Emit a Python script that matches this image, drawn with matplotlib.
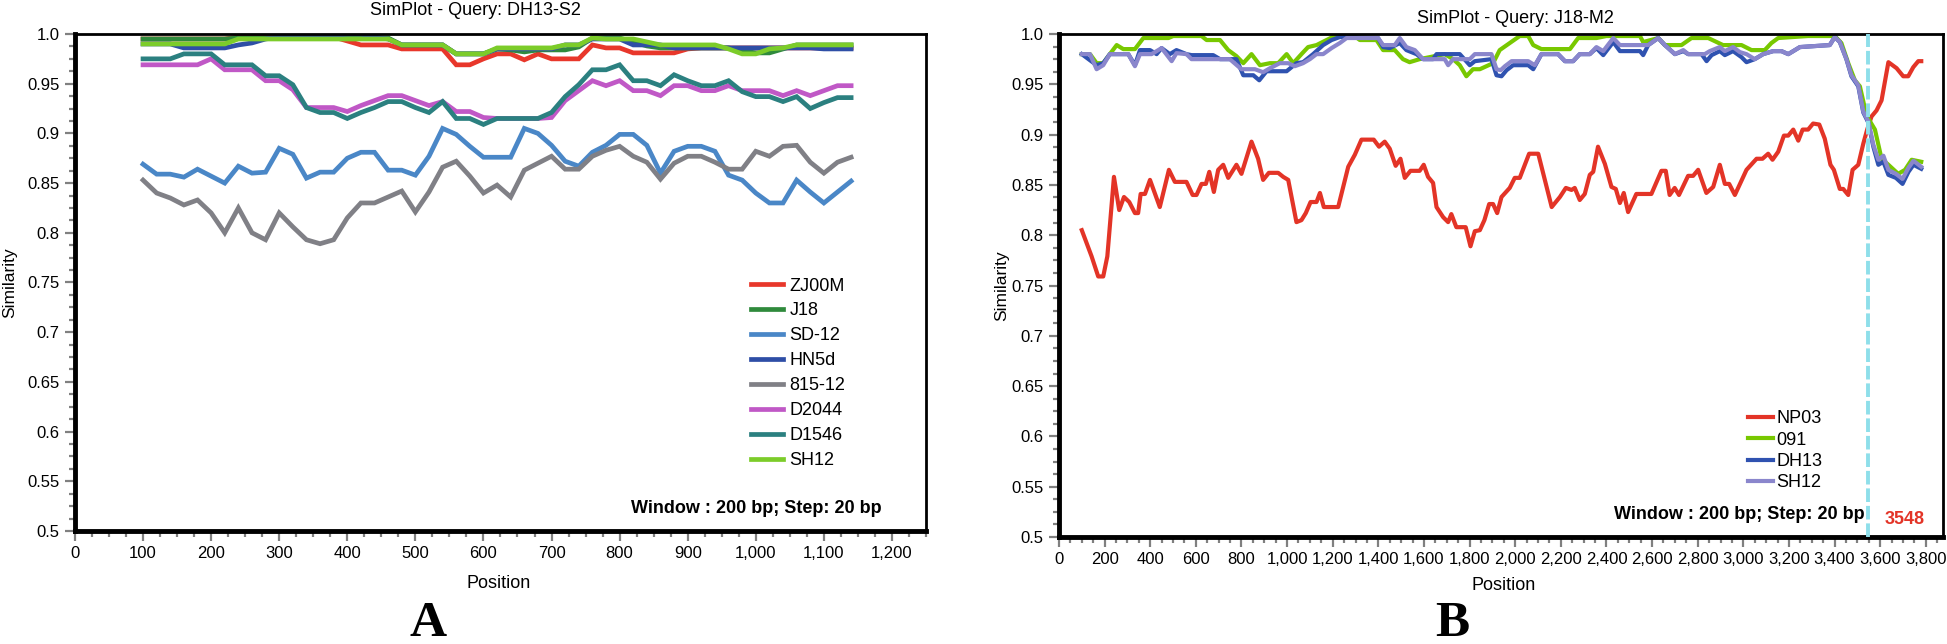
import numpy as np
import matplotlib
matplotlib.use('Agg')
import matplotlib.pyplot as plt
from matplotlib.ticker import MultipleLocator, FuncFormatter, FixedLocator

plt.rcParams['font.family'] = ['Liberation Sans', 'DejaVu Sans']

# ---------- panel A : query DH13-S2 (window 200 bp, step 20 bp) ----------
pos_a = np.arange(100, 1141, 20)

zj00m = [0.995, 0.995, 0.995, 0.995, 0.995, 0.995, 0.995, 0.997, 0.997, 0.997,
         0.997, 0.997, 0.997, 0.997, 0.997, 0.993, 0.989, 0.989, 0.989, 0.985,
         0.985, 0.985, 0.985, 0.969, 0.969, 0.975, 0.980, 0.980, 0.974, 0.980,
         0.975, 0.975, 0.975, 0.989, 0.986, 0.986, 0.981, 0.981, 0.981, 0.981,
         0.985, 0.986, 0.986, 0.986, 0.986, 0.986, 0.986, 0.986, 0.986, 0.986,
         0.986, 0.986, 0.986]
j18 = [0.995, 0.995, 0.995, 0.995, 0.995, 0.995, 0.995, 0.996, 0.996, 0.996,
       0.996, 0.996, 0.996, 0.996, 0.996, 0.996, 0.996, 0.996, 0.996, 0.989,
       0.989, 0.989, 0.989, 0.980, 0.980, 0.980, 0.985, 0.984, 0.982, 0.984,
       0.984, 0.984, 0.987, 0.996, 0.996, 0.996, 0.992, 0.988, 0.986, 0.986,
       0.986, 0.986, 0.986, 0.986, 0.983, 0.981, 0.981, 0.985, 0.989, 0.989,
       0.989, 0.989, 0.989]
sd12 = [0.869, 0.859, 0.859, 0.856, 0.864, 0.857, 0.850, 0.867, 0.860, 0.861,
        0.885, 0.879, 0.855, 0.861, 0.861, 0.875, 0.881, 0.881, 0.863, 0.863,
        0.858, 0.877, 0.905, 0.899, 0.887, 0.876, 0.876, 0.876, 0.905, 0.900,
        0.888, 0.872, 0.867, 0.881, 0.888, 0.899, 0.899, 0.888, 0.860, 0.882,
        0.887, 0.887, 0.882, 0.858, 0.853, 0.840, 0.830, 0.830, 0.853, 0.841,
        0.830, 0.841, 0.852]
hn5d = [0.990, 0.990, 0.990, 0.986, 0.986, 0.986, 0.986, 0.989, 0.991, 0.995,
        0.997, 0.997, 0.997, 0.997, 0.998, 1.000, 1.000, 0.997, 0.995, 0.989,
        0.989, 0.989, 0.989, 0.980, 0.980, 0.980, 0.985, 0.985, 0.985, 0.985,
        0.985, 0.989, 0.989, 0.995, 0.995, 0.995, 0.989, 0.989, 0.989, 0.986,
        0.986, 0.986, 0.986, 0.986, 0.986, 0.986, 0.986, 0.986, 0.986, 0.986,
        0.985, 0.985, 0.985]
s815 = [0.853, 0.840, 0.835, 0.828, 0.833, 0.820, 0.800, 0.825, 0.800, 0.793,
        0.820, 0.806, 0.793, 0.789, 0.793, 0.815, 0.830, 0.830, 0.836, 0.842,
        0.821, 0.841, 0.866, 0.872, 0.857, 0.840, 0.848, 0.836, 0.863, 0.870,
        0.877, 0.864, 0.864, 0.877, 0.883, 0.887, 0.877, 0.871, 0.854, 0.870,
        0.877, 0.877, 0.871, 0.864, 0.864, 0.882, 0.877, 0.887, 0.888, 0.871,
        0.860, 0.871, 0.876]
d2044 = [0.969, 0.969, 0.969, 0.969, 0.969, 0.975, 0.964, 0.964, 0.964, 0.953,
         0.953, 0.944, 0.926, 0.926, 0.926, 0.922, 0.928, 0.933, 0.938, 0.938,
         0.933, 0.928, 0.932, 0.922, 0.922, 0.916, 0.915, 0.915, 0.915, 0.915,
         0.916, 0.933, 0.943, 0.953, 0.948, 0.953, 0.943, 0.943, 0.938, 0.948,
         0.948, 0.943, 0.943, 0.948, 0.943, 0.943, 0.943, 0.938, 0.943, 0.938,
         0.943, 0.948, 0.948]
d1546 = [0.975, 0.975, 0.975, 0.980, 0.980, 0.980, 0.969, 0.969, 0.969, 0.958,
         0.958, 0.949, 0.926, 0.921, 0.921, 0.915, 0.921, 0.926, 0.932, 0.932,
         0.926, 0.921, 0.932, 0.915, 0.915, 0.909, 0.915, 0.915, 0.915, 0.915,
         0.921, 0.937, 0.949, 0.964, 0.964, 0.969, 0.953, 0.953, 0.948, 0.959,
         0.953, 0.948, 0.948, 0.953, 0.942, 0.937, 0.937, 0.932, 0.937, 0.925,
         0.931, 0.936, 0.936]
sh12_a = [0.990, 0.990, 0.990, 0.990, 0.990, 0.990, 0.990, 0.995, 0.995, 0.995,
          0.995, 0.995, 0.995, 0.995, 0.995, 0.995, 0.995, 0.995, 0.995, 0.989,
          0.989, 0.989, 0.989, 0.980, 0.980, 0.980, 0.986, 0.986, 0.986, 0.986,
          0.986, 0.989, 0.989, 0.996, 0.995, 0.995, 0.995, 0.992, 0.989, 0.989,
          0.989, 0.989, 0.989, 0.985, 0.980, 0.980, 0.985, 0.986, 0.989, 0.989,
          0.989, 0.989, 0.989]

names_a = ['ZJ00M', 'J18', 'SD-12', 'HN5d', '815-12', 'D2044', 'D1546', 'SH12']
series_a = [zj00m, j18, sd12, hn5d, s815, d2044, d1546, sh12_a]
colors_a = ['#e8372b', '#2f8a3c', '#4a87c7', '#2e4ea6', '#808086', '#c058c6', '#2b8080', '#7ccc2a']

# ---------- panel B : query J18-M2 ----------
np03 = [(100, .805), (143, .779), (172, .759), (194, .759), (212, .779), (241, .858),
        (264, .825), (285, .838), (308, .833), (333, .822), (347, .822), (358, .841),
        (377, .841), (399, .855), (442, .828), (482, .865), (508, .853), (559, .853),
        (586, .840), (603, .840), (625, .851), (644, .851), (659, .863), (679, .843),
        (698, .865), (720, .870), (742, .857), (778, .870), (800, .861), (844, .893),
        (873, .876), (895, .855), (920, .862), (961, .862), (983, .858), (1005, .855),
        (1041, .813), (1063, .815), (1082, .822), (1103, .833), (1129, .833), (1144, .842),
        (1161, .828), (1224, .828), (1246, .848), (1268, .868), (1297, .880), (1326, .895),
        (1380, .895), (1403, .888), (1428, .893), (1450, .886), (1476, .869), (1497, .876),
        (1516, .857), (1541, .864), (1581, .864), (1599, .870), (1618, .858), (1640, .852),
        (1655, .828), (1684, .818), (1706, .813), (1720, .821), (1742, .808), (1783, .808),
        (1804, .789), (1823, .804), (1845, .805), (1865, .815), (1886, .831), (1903, .831),
        (1921, .822), (1940, .838), (1976, .847), (1998, .857), (2020, .857), (2061, .881),
        (2101, .881), (2160, .828), (2196, .838), (2222, .847), (2247, .845), (2261, .847),
        (2283, .835), (2305, .841), (2327, .860), (2342, .863), (2363, .888), (2393, .871),
        (2422, .848), (2441, .846), (2459, .832), (2476, .842), (2495, .823), (2531, .841),
        (2597, .841), (2641, .864), (2660, .864), (2677, .840), (2699, .847), (2718, .840),
        (2758, .859), (2780, .859), (2802, .865), (2838, .842), (2868, .848), (2897, .870),
        (2919, .851), (2938, .851), (2963, .840), (3014, .865), (3058, .876), (3084, .876),
        (3109, .881), (3128, .875), (3153, .883), (3178, .899), (3197, .899), (3219, .905),
        (3241, .894), (3260, .905), (3284, .905), (3306, .911), (3333, .910), (3357, .896),
        (3382, .870), (3397, .865), (3423, .846), (3438, .846), (3460, .840), (3479, .865),
        (3504, .870), (3526, .891), (3543, .905), (3562, .918), (3584, .924), (3606, .934),
        (3636, .972), (3672, .966), (3701, .958), (3723, .958), (3745, .967), (3767, .973),
        (3780, .973)]
s091 = [(100, .980), (136, .980), (165, .971), (194, .971), (223, .980), (253, .989),
        (282, .985), (333, .985), (370, .996), (480, .996), (501, .998), (625, .998),
        (647, .994), (706, .994), (742, .984), (778, .978), (808, .971), (844, .980),
        (881, .969), (925, .971), (961, .971), (998, .980), (1027, .971), (1063, .980),
        (1092, .987), (1129, .989), (1173, .994), (1217, .999), (1290, .999), (1319, .994),
        (1392, .994), (1421, .984), (1472, .984), (1508, .975), (1537, .972), (1581, .975),
        (1691, .980), (1728, .975), (1757, .969), (1786, .958), (1815, .965), (1845, .965),
        (1903, .971), (1932, .984), (1976, .991), (2020, .998), (2057, .998), (2079, .989),
        (2115, .985), (2240, .985), (2276, .996), (2356, .996), (2400, .998), (2547, .998),
        (2561, .992), (2627, .996), (2656, .989), (2729, .989), (2773, .996), (2846, .996),
        (2911, .989), (2992, .989), (3036, .984), (3094, .984), (3123, .991), (3153, .996),
        (3284, .998), (3401, .998), (3430, .991), (3460, .971), (3489, .954), (3511, .948),
        (3540, .919), (3577, .905), (3606, .876), (3636, .870), (3679, .861), (3709, .865),
        (3738, .875), (3780, .873)]
dh13 = [(100, .980), (165, .969), (194, .971), (223, .980), (304, .980), (333, .969),
        (355, .984), (399, .984), (428, .980), (450, .986), (486, .980), (515, .984),
        (559, .980), (581, .979), (676, .979), (706, .975), (778, .975), (808, .959),
        (852, .959), (878, .954), (910, .963), (998, .963), (1041, .971), (1070, .972),
        (1114, .980), (1158, .989), (1195, .994), (1231, .997), (1275, .997), (1399, .996),
        (1421, .987), (1450, .986), (1494, .991), (1523, .984), (1567, .980), (1596, .975),
        (1640, .975), (1655, .980), (1757, .980), (1801, .969), (1823, .973), (1896, .975),
        (1918, .959), (1940, .958), (1962, .964), (1991, .969), (2057, .969), (2079, .965),
        (2115, .980), (2188, .980), (2218, .973), (2254, .973), (2283, .980), (2327, .980),
        (2356, .986), (2386, .979), (2430, .992), (2459, .983), (2547, .983), (2561, .979),
        (2583, .989), (2627, .996), (2656, .989), (2700, .980), (2737, .983), (2758, .980),
        (2817, .980), (2839, .973), (2861, .979), (2897, .983), (2919, .979), (2955, .983),
        (2992, .977), (3014, .972), (3050, .975), (3087, .980), (3131, .983), (3167, .983),
        (3197, .980), (3219, .983), (3248, .987), (3379, .989), (3401, .997), (3423, .992),
        (3452, .975), (3474, .958), (3504, .948), (3526, .922), (3548, .912), (3570, .888),
        (3592, .870), (3614, .873), (3636, .860), (3669, .857), (3698, .851), (3724, .863),
        (3746, .870), (3780, .866)]
sh12_b = [(100, .980), (136, .980), (165, .965), (194, .969), (223, .980), (304, .980),
          (333, .968), (355, .980), (406, .980), (450, .986), (494, .973), (515, .981),
          (559, .980), (581, .975), (749, .975), (800, .965), (859, .965), (895, .962),
          (925, .966), (968, .971), (1005, .971), (1034, .968), (1070, .971), (1100, .975),
          (1129, .980), (1158, .980), (1195, .986), (1231, .991), (1261, .996), (1399, .996),
          (1421, .989), (1472, .989), (1494, .996), (1523, .987), (1560, .984), (1596, .975),
          (1691, .975), (1706, .969), (1728, .975), (1801, .975), (1823, .980), (1896, .980),
          (1918, .965), (1936, .964), (1955, .968), (1984, .973), (2057, .973), (2086, .969),
          (2115, .980), (2188, .980), (2218, .973), (2254, .973), (2283, .980), (2327, .980),
          (2356, .987), (2386, .983), (2430, .996), (2459, .989), (2583, .989), (2627, .996),
          (2656, .989), (2700, .980), (2737, .984), (2758, .980), (2831, .980), (2853, .983),
          (2897, .987), (2919, .983), (2955, .987), (2985, .982), (3014, .980), (3050, .975),
          (3087, .980), (3131, .983), (3167, .983), (3197, .980), (3219, .983), (3248, .987),
          (3379, .989), (3401, .997), (3423, .992), (3452, .975), (3474, .959), (3504, .949),
          (3526, .923), (3548, .913), (3570, .890), (3592, .875), (3614, .879), (3636, .865),
          (3669, .861), (3698, .856), (3724, .867), (3746, .874), (3780, .868)]

names_b = ['NP03', '091', 'DH13', 'SH12']
series_b = [np03, s091, dh13, sh12_b]
colors_b = ['#e33427', '#78c800', '#2f52b0', '#8a86cc']
breakpoint_b = 3548

ytick_vals = [0.5, 0.55, 0.6, 0.65, 0.7, 0.75, 0.8, 0.85, 0.9, 0.95, 1.0]
ytick_labels = ['0.5', '0.55', '0.6', '0.65', '0.7', '0.75', '0.8', '0.85', '0.9', '0.95', '1.0']


def style_axes(ax, xmax, xmajor, xminor):
    ax.set_xlim(0, xmax)
    ax.set_ylim(0.5, 1.0)
    ax.xaxis.set_major_locator(MultipleLocator(xmajor))
    ax.xaxis.set_minor_locator(MultipleLocator(xminor))
    ax.xaxis.set_major_formatter(FuncFormatter(lambda v, p: f'{int(v):,}'))
    ax.yaxis.set_major_locator(FixedLocator(ytick_vals))
    ax.set_yticklabels(ytick_labels)
    ax.yaxis.set_minor_locator(MultipleLocator(0.0125))
    ax.tick_params(which='major', length=7, width=1.6, color='#808080',
                   labelsize=12, pad=4)
    ax.tick_params(which='minor', length=4, width=1.6, color='#808080')
    for side in ['left', 'bottom']:
        ax.spines[side].set_linewidth(3.5)
    for side in ['top', 'right']:
        ax.spines[side].set_linewidth(2.0)
    ax.set_ylabel('Similarity', fontsize=12.5)
    ax.set_xlabel('Position', fontsize=13)


fig = plt.figure(figsize=(19.47, 6.44), dpi=100)
ax_a = fig.add_axes([0.0385, 0.1755, 0.4371, 0.7717])
ax_b = fig.add_axes([0.5439, 0.1661, 0.4540, 0.7811])

for name, vals, col in zip(names_a, series_a, colors_a):
    ax_a.plot(pos_a, vals, color=col, lw=3.4, label=name, solid_joinstyle='miter')
style_axes(ax_a, 1250, 100, 25)
ax_a.yaxis.set_label_coords(-0.068, 0.5)
ax_a.xaxis.set_label_coords(0.498, -0.088)
ax_a.text(0.47, 1.038, 'SimPlot - Query: DH13-S2', transform=ax_a.transAxes,
          ha='center', va='baseline', fontsize=13)
ax_a.text(0.948, 0.036, 'Window : 200 bp; Step: 20 bp', transform=ax_a.transAxes,
          ha='right', va='baseline', fontsize=13, fontweight='bold')
ax_a.legend(loc='upper left', bbox_to_anchor=(0.794, 0.51), frameon=False,
            fontsize=13, handlelength=1.8, handletextpad=0.35, labelspacing=0.44,
            borderpad=0, borderaxespad=0)

for name, pts, col in zip(names_b, series_b, colors_b):
    xs = [p[0] for p in pts]
    ys = [p[1] for p in pts]
    ax_b.plot(xs, ys, color=col, lw=3.0, label=name)
ax_b.axvline(breakpoint_b, color='#8edfea', lw=2.8, linestyle=(0, (3.5, 1.0)), zorder=5)
style_axes(ax_b, 3875, 200, 50)
ax_b.yaxis.set_label_coords(-0.0566, 0.5)
ax_b.xaxis.set_label_coords(0.503, -0.0795)
ax_b.text(0.516, 1.022, 'SimPlot - Query: J18-M2', transform=ax_b.transAxes,
          ha='center', va='baseline', fontsize=13)
ax_b.text(0.912, 0.036, 'Window : 200 bp; Step: 20 bp', transform=ax_b.transAxes,
          ha='right', va='baseline', fontsize=13, fontweight='bold')
ax_b.text(0.934, 0.026, str(breakpoint_b), transform=ax_b.transAxes,
          ha='left', va='baseline', fontsize=13, fontweight='bold', color='#e33427')
ax_b.legend(loc='upper left', bbox_to_anchor=(0.779, 0.252), frameon=False,
            fontsize=13, handlelength=1.4, handletextpad=0.2, labelspacing=0.24,
            borderpad=0, borderaxespad=0)

fig.text(428 / 1947, 0.012, 'A', ha='center', va='baseline', fontsize=37,
         fontweight='bold', family='Liberation Serif')
fig.text(1452 / 1947, 0.012, 'B', ha='center', va='baseline', fontsize=37,
         fontweight='bold', family='Liberation Serif')

fig.savefig('out.png', dpi=100)
